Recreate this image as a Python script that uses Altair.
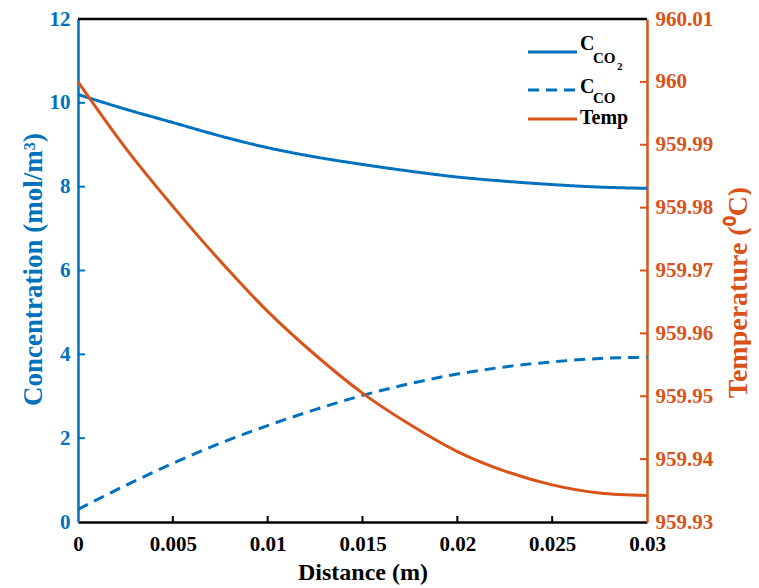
import altair as alt
import pandas as pd

# ---- data ----
distance = [0, 0.0025, 0.005, 0.0075, 0.01, 0.0125, 0.015, 0.0175, 0.02, 0.0225, 0.025, 0.0275, 0.03]
c_co2 = [10.2, 9.85, 9.53, 9.21, 8.93, 8.71, 8.53, 8.37, 8.23, 8.13, 8.05, 7.99, 7.96]
c_co = [0.3, 0.87, 1.4, 1.88, 2.3, 2.68, 3.02, 3.3, 3.53, 3.7, 3.82, 3.9, 3.93]
temp = [960.0, 959.9895, 959.9802, 959.9715, 959.9635, 959.9566, 959.9505,
        959.9455, 959.9412, 959.9381, 959.9359, 959.9346, 959.9342]

x_ticks = [0, 0.005, 0.01, 0.015, 0.02, 0.025, 0.03]
conc_ticks = [0, 2, 4, 6, 8, 10, 12]
temp_ticks = [959.93, 959.94, 959.95, 959.96, 959.97, 959.98, 959.99, 960.0, 960.01]

BLUE = "#0072BD"
ORANGE = "#D95319"
FONT = "Liberation Serif"
W, H = 569, 503

df = pd.DataFrame({"distance": distance, "co2": c_co2, "co": c_co, "temp": temp})

x_scale = alt.Scale(domain=[0, 0.03], nice=False, zero=False)
left_scale = alt.Scale(domain=[0, 12], nice=False, zero=False)
right_scale = alt.Scale(domain=[959.93, 960.01], nice=False, zero=False)

x_axis = alt.Axis(
    values=x_ticks, format="~g", title="Distance (m)", tickSize=0, grid=False,
    domainColor="black", domainWidth=2.5, labelFlush=False,
    labelColor="black", labelFont=FONT, labelFontWeight="bold", labelFontSize=21, labelPadding=11,
    titleColor="black", titleFont=FONT, titleFontWeight="bold", titleFontSize=24,
    titleY=57, titleBaseline="alphabetic",
)

left_axis = alt.Axis(
    values=conc_ticks, orient="left", title="Concentration (mol/m³)", tickSize=0, grid=False,
    domainColor=BLUE, domainWidth=2.5,
    labelColor=BLUE, labelFont=FONT, labelFontWeight="bold", labelFontSize=21, labelPadding=8,
    titleColor=BLUE, titleFont=FONT, titleFontWeight="bold", titleFontSize=27,
    titleAngle=270, titleX=-37, titleY=250, titleAlign="center", titleBaseline="alphabetic",
)

right_axis = alt.Axis(
    values=temp_ticks, orient="right", format="~g", title="Temperature (⁰C)", tickSize=0, grid=False,
    domainColor=ORANGE, domainWidth=2.5,
    labelColor=ORANGE, labelFont=FONT, labelFontWeight="bold", labelFontSize=21, labelPadding=8,
    titleColor=ORANGE, titleFont=FONT, titleFontWeight="bold", titleFontSize=28,
    titleAngle=270, titleX=99, titleY=273, titleAlign="center", titleBaseline="alphabetic",
)

conc_lines = alt.Chart(df).transform_fold(
    ["co2", "co"], as_=["series", "conc"]
).mark_line(color=BLUE, strokeWidth=3, interpolate="monotone").encode(
    x=alt.X("distance:Q", scale=x_scale, axis=x_axis),
    y=alt.Y("conc:Q", scale=left_scale, axis=left_axis),
    strokeDash=alt.StrokeDash("series:N", scale=alt.Scale(domain=["co2", "co"], range=[[1, 0], [11, 7]]), legend=None),
)

left_ticks = alt.Chart(pd.DataFrame({"conc": conc_ticks[1:-1]})).mark_rule(color=BLUE, strokeWidth=2).encode(
    y=alt.Y("conc:Q", scale=left_scale, axis=left_axis), x=alt.value(0), x2=alt.value(7)
)
x_tick_marks = alt.Chart(pd.DataFrame({"distance": x_ticks[1:-1]})).mark_rule(color="black", strokeWidth=2).encode(
    x=alt.X("distance:Q", scale=x_scale, axis=x_axis), y=alt.value(H), y2=alt.value(H - 6)
)
top_border = alt.Chart(pd.DataFrame({"v": [0]})).mark_rule(color="black", strokeWidth=2.5).encode(
    x=alt.value(0), x2=alt.value(W), y=alt.value(0)
)

left_group = alt.layer(top_border, x_tick_marks, left_ticks, conc_lines)

temp_line = alt.Chart(df).mark_line(color=ORANGE, strokeWidth=3, interpolate="monotone").encode(
    x=alt.X("distance:Q", scale=x_scale, axis=x_axis),
    y=alt.Y("temp:Q", scale=right_scale, axis=right_axis),
)
right_ticks = alt.Chart(pd.DataFrame({"temp": temp_ticks[1:-1]})).mark_rule(color=ORANGE, strokeWidth=2).encode(
    y=alt.Y("temp:Q", scale=right_scale, axis=right_axis), x=alt.value(W), x2=alt.value(W - 7)
)
right_group = alt.layer(right_ticks, temp_line)


def legend_text(s, x, y, size):
    return alt.Chart(pd.DataFrame({"t": [s]})).mark_text(
        align="left", baseline="alphabetic", font=FONT, fontWeight="bold", fontSize=size, color="black"
    ).encode(text="t:N", x=alt.value(x), y=alt.value(y))


def legend_line(y, color, dash):
    return alt.Chart(pd.DataFrame({"t": [0]})).mark_rule(color=color, strokeWidth=3, strokeDash=dash).encode(
        x=alt.value(450), x2=alt.value(499), y=alt.value(y)
    )


legend = alt.layer(
    legend_line(33, BLUE, [1, 0]),
    legend_line(71, BLUE, [11, 7]),
    legend_line(100, ORANGE, [1, 0]),
    legend_text("C", 502, 31, 20),
    legend_text("CO", 515, 44, 15),
    legend_text("2", 539, 51, 11),
    legend_text("C", 502, 74, 20),
    legend_text("CO", 515, 84, 15),
    legend_text("Temp", 502, 105, 20),
)

chart = alt.layer(left_group, right_group, legend).resolve_scale(y="independent").properties(
    width=W, height=H,
    padding={"left": 70, "top": 11, "right": 104, "bottom": 64},
    autosize=alt.AutoSizeParams(type="none"),
).configure_view(stroke=None)

chart.save("out.html", embed_options={"renderer": "svg", "actions": False})
